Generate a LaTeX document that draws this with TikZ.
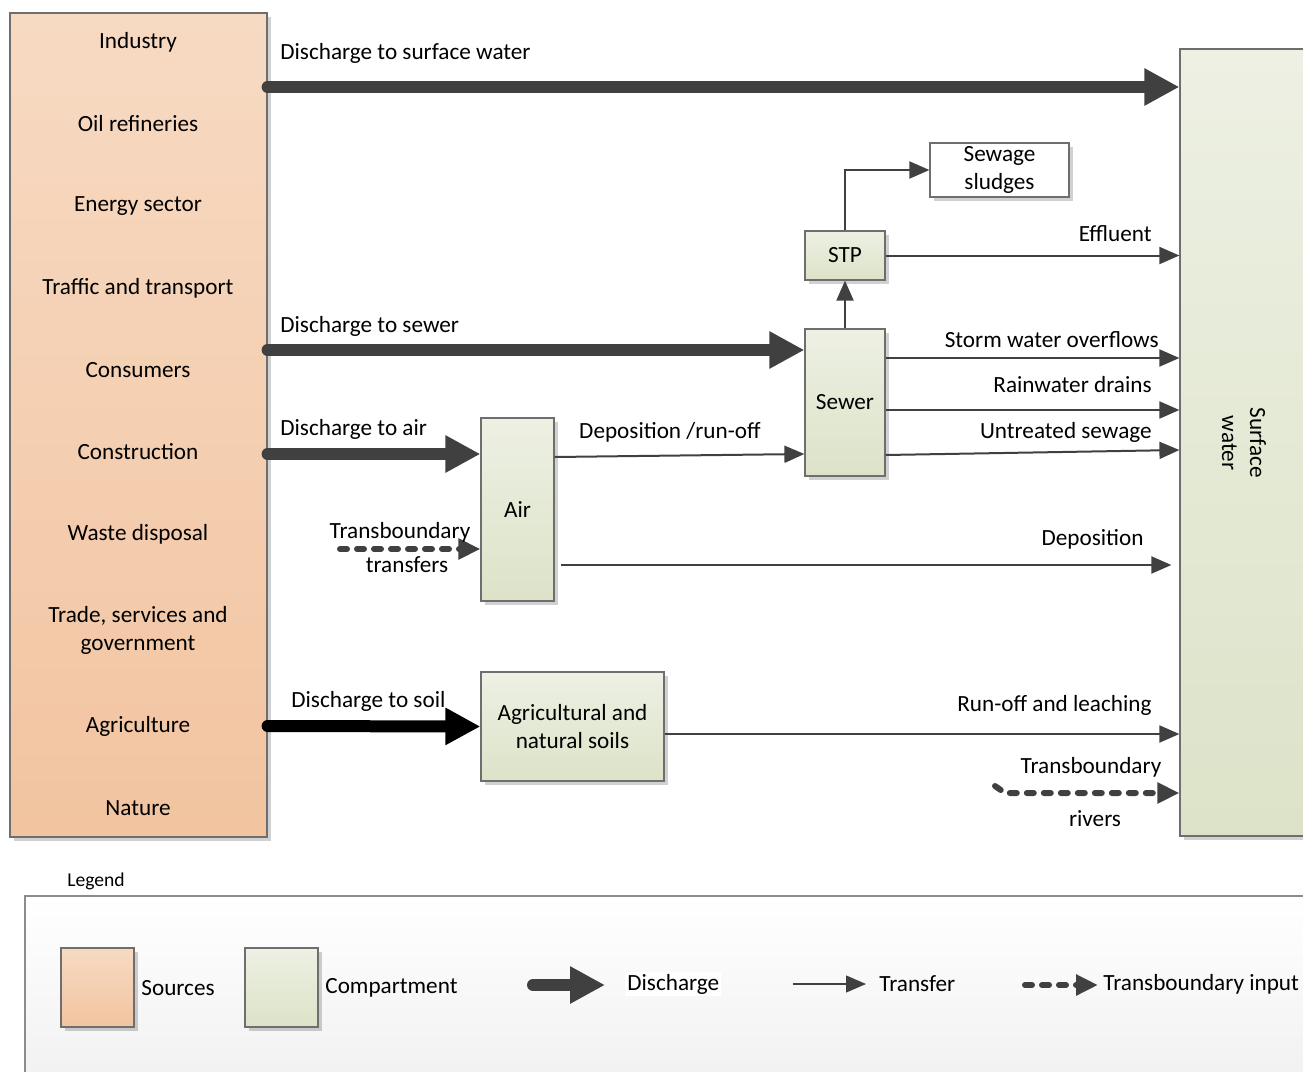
\documentclass[tikz,border=0pt]{standalone}
\usepackage{fontspec}
\setmainfont{Carlito}
\usetikzlibrary{arrows.meta,fit,shadows,calc}
\definecolor{srctop}{HTML}{F7DAC3}
\definecolor{srcbot}{HTML}{F2C4A0}
\definecolor{comptop}{HTML}{EDF0E3}
\definecolor{compbot}{HTML}{DCE3C8}
\definecolor{arrowgray}{HTML}{404040}
\definecolor{boxline}{HTML}{6E6E6E}
\tikzset{
  every node/.style={font=\fontsize{11.6}{14}\selectfont, inner sep=0pt},
  boxshadow/.style={drop shadow={shadow xshift=2pt, shadow yshift=-2pt, opacity=0.18, fill=black}},
  srcbox/.style={draw=boxline, line width=0.6pt, top color=srctop, bottom color=srcbot, boxshadow},
  compbox/.style={draw=boxline, line width=0.6pt, top color=comptop, bottom color=compbot, boxshadow},
  plainbox/.style={draw=boxline, line width=0.6pt, fill=white, boxshadow},
  discharge/.style={draw=arrowgray, line width=6pt, line cap=round,
      -{Triangle[length=17.5pt,width=17.5pt]}},
  transfer/.style={draw=arrowgray, line width=1pt, -{Triangle[length=10pt,width=8.5pt]}},
  transb/.style={draw=arrowgray, line width=3pt, line cap=round, dash pattern=on 3.5pt off 5pt,
      -{Triangle[length=11pt,width=10pt]}},
  lbl/.style={anchor=west},
  rlbl/.style={anchor=east}
}

\begin{document}
\begin{tikzpicture}[x=0.5pt, y=-0.5pt]
\useasboundingbox (0,0) rectangle (1303,1072);
\clip (0,0) rectangle (1303,1072);

% sources and receiving water
\node[srcbox, fit={(10,13) (267,837)}] (src) {};
\foreach \y/\t/\n in {42/Industry/ind, 124/Oil refineries/oil, 206/Energy sector/ene,
    288/Traffic and transport/tra, 370/Consumers/con, 452/Construction/cst,
    534/Waste disposal/was, 630/{Trade, services and\\government}/trd,
    726/Agriculture/agr, 808/Nature/nat}
  \node[align=center] (\n) at (138,\y) {\t};
\node[compbox, fit={(1180,49) (1320,836)}] (sw) {};
\node[rotate=-90, align=center] (swtext) at (1244,443) {Surface\\water};

% compartments
\node[compbox, fit={(481,418) (554,601)}] (air) {};
\node (airtext) at (air.center) {Air};
\node[compbox, fit={(805,329) (885,476)}] (sewer) {};
\node (sewertext) at (sewer.center) {Sewer};
\node[compbox, fit={(805,231) (885,280)}] (stp) {};
\node (stptext) at (stp.center) {STP};
\node[plainbox, fit={(930,143) (1069,197)}] (sludge) {};
\node[align=center] (sludgetext) at (sludge.center) {Sewage\\sludges};
\node[compbox, fit={(481,672) (664,781)}] (soil) {};
\node[align=center] (soiltext) at (soil.center) {Agricultural and\\natural soils};

% discharges
\draw[discharge] (src.east |- 0,87) -- (sw.west |- 0,87);
\node[lbl] (dsw) at (280,53) {Discharge to surface water};
\draw[discharge] (src.east |- 0,350) -- (sewer.west |- 0,350);
\node[lbl] (dsew) at (280,326) {Discharge to sewer};
\draw[discharge] (src.east |- 0,454) -- (air.west |- 0,454);
\node[lbl] (dair) at (280,429) {Discharge to air};
\draw[discharge, draw=black] (src.east |- 0,726) -- (soil.west);
\node[lbl] (dsoil) at (291,701) {Discharge to soil};

% transfers
\coordinate (ttstart) at (340,549);
\draw[transb] (ttstart) -- (air.west |- 0,549);
\node (tt1) at (400,532) {Transboundary};
\node (tt2) at (407,565) {transfers};
\draw[transfer] (air.east |- 0,457) -- (sewer.west |- 0,454);
\node (deprun) at (670,432) {Deposition /run-off};
\draw[transfer] ($(air.east |- 0,565)+(6,0)$) -- ($(sw.west |- 0,565)+(-8,0)$);
\node[rlbl] (dep) at (1144,539) {Deposition};
\draw[transfer] (sewer.north) -- (stp.south);
\draw[transfer] (stp.north) |- (sludge.west);
\draw[transfer] (stp.east) -- (sw.west |- stp.east);
\node[rlbl] (eff) at (1152,234) {Effluent};
\draw[transfer] (sewer.east |- 0,358) -- (sw.west |- 0,358);
\node[rlbl] (storm) at (1159,340) {Storm water overflows};
\draw[transfer] (sewer.east |- 0,410) -- (sw.west |- 0,410);
\node[rlbl] (rain) at (1152,385) {Rainwater drains};
\draw[transfer] (sewer.east |- 0,455) -- (sw.west |- 0,450);
\node[rlbl] (untr) at (1152,432) {Untreated sewage};
\draw[transfer] (soil.east |- 0,734) -- (sw.west |- 0,734);
\node[rlbl] (runoff) at (1152,705) {Run-off and leaching};
\coordinate (trstart) at (995,786);
\draw[transb] (trstart) -- (1005,793) -- (sw.west |- 0,793);
\node (tr1) at (1091,767) {Transboundary};
\node (tr2) at (1095,819) {rivers};

% legend
\node[font=\fontsize{9.8}{12}\selectfont] (legtitle) at (96,881) {Legend};
\node[draw=black!45, line width=0.6pt, top color=white, bottom color=black!6,
    fit={(25,896) (1330,1100)}] (legend) {};
\node[srcbox, fit={(61,948) (134,1027)}] (legsrc) {};
\node[lbl] (legsrctext) at (141,988) {Sources};
\node[compbox, fit={(245,948) (318,1027)}] (legcomp) {};
\node[lbl] (legcomptext) at (325,988) {Compartment};
\coordinate (ld1) at (533,985);
\coordinate (ld2) at (605,985);
\draw[discharge] (ld1) -- (ld2);
\node[lbl, fill=white, inner sep=1pt] (legdis) at (625,984) {Discharge};
\coordinate (lt1) at (793,984);
\coordinate (lt2) at (866,984);
\draw[transfer, line width=0.6pt] (lt1) -- (lt2);
\node[lbl] (legtra) at (879,984) {Transfer};
\coordinate (lb1) at (1025,985);
\coordinate (lb2) at (1098,985);
\draw[transb] (lb1) -- (lb2);
\node[lbl] (legtb) at (1103,984) {Transboundary input};
\end{tikzpicture}
\end{document}
